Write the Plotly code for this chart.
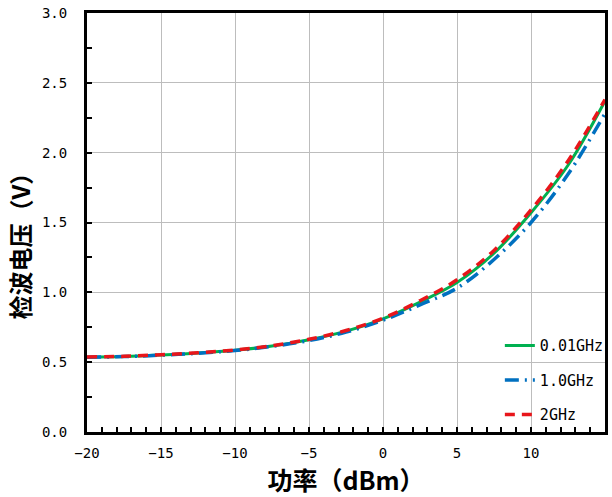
import plotly.graph_objects as go

power_dbm = [-20, -17.5, -15, -12.5, -10, -7.5, -5, -2.5, 0, 2.5, 5, 7.5, 10, 12.5, 15]
v_001ghz = [0.535, 0.540, 0.551, 0.565, 0.585, 0.615, 0.660, 0.722, 0.810, 0.930, 1.070, 1.280, 1.570, 1.910, 2.370]
v_1ghz = [0.535, 0.540, 0.550, 0.564, 0.583, 0.613, 0.655, 0.715, 0.800, 0.910, 1.030, 1.235, 1.500, 1.845, 2.280]
v_2ghz = [0.537, 0.542, 0.553, 0.567, 0.587, 0.618, 0.664, 0.727, 0.815, 0.940, 1.090, 1.300, 1.590, 1.940, 2.380]

series_names = ["0.01GHz", "1.0GHz", "2GHz"]

mono = "DejaVu Sans Mono, monospace"
cjk = "Noto Sans CJK SC, sans-serif"

fig = go.Figure()
fig.add_trace(go.Scatter(x=power_dbm, y=v_001ghz, name=series_names[0], mode="lines",
                         line=dict(color="#00B050", width=3, shape="spline"), legendgroup="a"))
fig.add_trace(go.Scatter(x=power_dbm, y=v_1ghz, name=series_names[1], mode="lines",
                         line=dict(color="#0070C0", width=3.5, dash="14px,6px,2px,6px", shape="spline"), legendgroup="b"))
fig.add_trace(go.Scatter(x=power_dbm, y=v_2ghz, name=series_names[2], mode="lines",
                         line=dict(color="#E8161B", width=3.5, dash="10px,7px", shape="spline"), legendgroup="c"))

fig.update_layout(
    width=612, height=497,
    margin=dict(l=87, r=3, t=13, b=65),
    paper_bgcolor="white", plot_bgcolor="white",
    showlegend=True,
    legend=dict(x=0.797, y=0.245, xanchor="left", yanchor="top",
                bgcolor="rgba(0,0,0,0)", borderwidth=0,
                font=dict(family=mono, size=15, color="black"),
                tracegroupgap=12, traceorder="grouped"),
    annotations=[dict(text="检波电压（V）", xref="paper", yref="paper",
                      x=(18 - 87) / 522, y=(432 - 240) / 419,
                      xanchor="center", yanchor="middle", showarrow=False, textangle=-90,
                      font=dict(family=cjk, size=24, color="black", weight="bold"))],
)
fig.update_xaxes(
    range=[-20, 15], dtick=5, tick0=-20,
    showline=True, linecolor="black", linewidth=3, mirror=True,
    showgrid=True, gridcolor="#BDBDBD", gridwidth=1,
    zeroline=False,
    ticks="inside", ticklen=5, tickcolor="black", tickwidth=1.5,
    minor=dict(dtick=1, ticks="inside", ticklen=5, tickcolor="black", tickwidth=1.5, showgrid=False),
    tickfont=dict(family=mono, size=14, color="black"),
    ticklabelstandoff=6,
    title=dict(text="功率（dBm）", font=dict(family=cjk, size=25, color="black", weight="bold"), standoff=8),
)
fig.update_yaxes(
    range=[0, 3], dtick=0.5, tickformat=".1f",
    showline=True, linecolor="black", linewidth=3, mirror=True,
    showgrid=True, gridcolor="#BDBDBD", gridwidth=1,
    zeroline=False,
    ticks="inside", ticklen=5, tickcolor="black", tickwidth=1.5,
    minor=dict(dtick=0.25, ticks="inside", ticklen=5, tickcolor="black", tickwidth=1.5, showgrid=False),
    tickfont=dict(family=mono, size=14, color="black"),
    ticklabelstandoff=14,
)

fig.write_html("out.html")
